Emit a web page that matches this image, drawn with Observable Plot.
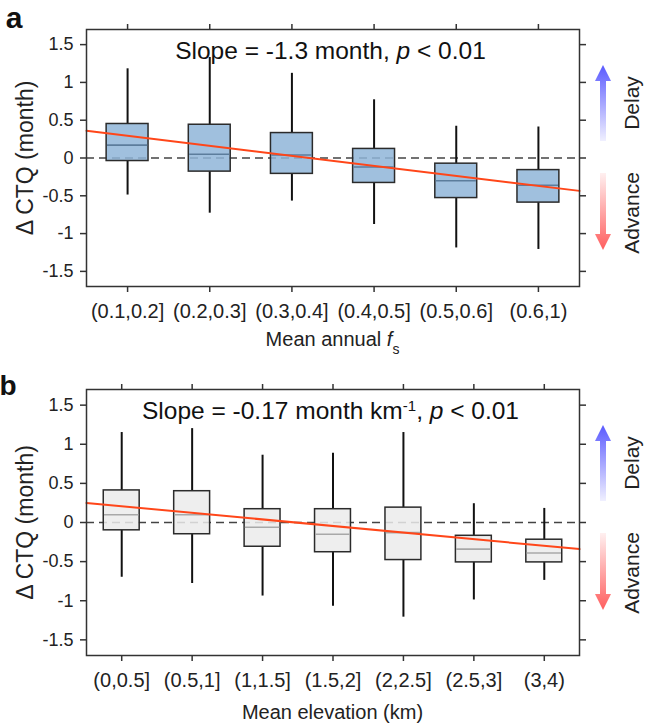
<!DOCTYPE html>
<html>
<head>
<meta charset="utf-8">
<script src="https://cdn.jsdelivr.net/npm/d3@7"></script>
<script src="https://cdn.jsdelivr.net/npm/@observablehq/plot@0.6"></script>
<style>
  html, body { margin: 0; padding: 0; background: #fff; }
  #wrap { width: 648px; height: 723px; position: relative; font-family: "Liberation Sans", Arial, sans-serif; }
  #wrap svg { display: block; }
</style>
</head>
<body>
<div id="wrap"></div>
<script>
// ---------- Data ----------
const yTicks = [-1.5, -1, -0.5, 0, 0.5, 1, 1.5];
const yTickLabels = ["-1.5", "-1", "-0.5", "0", "0.5", "1", "1.5"];

// Panel a: mean annual fs bins
const catsA = ["(0.1,0.2]", "(0.2,0.3]", "(0.3,0.4]", "(0.4,0.5]", "(0.5,0.6]", "(0.6,1)"];
const whiskerLowA = [-0.49, -0.73, -0.57, -0.88, -1.19, -1.21];
const q1A = [-0.04, -0.18, -0.21, -0.33, -0.53, -0.59];
const medianA = [0.17, 0.05, 0.04, -0.12, -0.30, -0.36];
const q3A = [0.45, 0.44, 0.33, 0.12, -0.075, -0.16];
const whiskerHighA = [1.18, 1.33, 1.12, 0.77, 0.42, 0.41];
const trendA = [0.36, -0.435]; // fitted value at left / right edge of frame

// Panel b: mean elevation bins
const catsB = ["(0,0.5]", "(0.5,1]", "(1,1.5]", "(1.5,2]", "(2,2.5]", "(2.5,3]", "(3,4)"];
const whiskerLowB = [-0.70, -0.78, -0.94, -1.07, -1.21, -0.99, -0.74];
const q1B = [-0.10, -0.15, -0.31, -0.38, -0.48, -0.51, -0.51];
const medianB = [0.10, 0.10, -0.06, -0.15, -0.13, -0.34, -0.39];
const q3B = [0.41, 0.40, 0.17, 0.17, 0.19, -0.17, -0.22];
const whiskerHighB = [1.15, 1.20, 0.86, 0.885, 1.15, 0.24, 0.18];
const trendB = [0.25, -0.34];

const FONT = "'Liberation Sans', Arial, Helvetica, sans-serif";

function panel(opts) {
  const {cats, wlo, q1, med, q3, whi, trend, height, marginBottom, fill, medColor,
         letter, letterPos, letterSize, slopeParts, xlabelParts, xlabelY, id} = opts;
  const n = cats.length;
  const rows = cats.map((c, i) => ({i, c, wlo: wlo[i], q1: q1[i], med: med[i], q3: q3[i], whi: whi[i]}));
  const trendRows = [{x: -0.5, y: trend[0]}, {x: n - 0.5, y: trend[1]}];
  const hw = 0.255;
  const mT = 29, mL = 86, mR = 69, W = 648;
  const plot = Plot.plot({
    width: W, height, marginTop: mT, marginBottom, marginLeft: mL, marginRight: mR,
    style: {fontFamily: FONT, fontSize: "18px", color: "#222", background: "white", overflow: "visible"},
    x: {domain: [-0.5, n - 0.5], axis: null},
    y: {domain: [-1.7, 1.7], axis: null},
    marks: [
      Plot.ruleY([0], {stroke: "#444", strokeWidth: 1.5, strokeDasharray: "8,5"}),
      Plot.ruleX(rows, {x: "i", y1: "q3", y2: "whi", stroke: "#111", strokeWidth: 2}),
      Plot.ruleX(rows, {x: "i", y1: "wlo", y2: "q1", stroke: "#111", strokeWidth: 2}),
      Plot.rect(rows, {x1: d => d.i - hw, x2: d => d.i + hw, y1: "q1", y2: "q3",
        fill, fillOpacity: 0.85, stroke: "#2b2b2b", strokeWidth: 1.5}),
      Plot.ruleY(rows, {y: "med", x1: d => d.i - hw + 0.01, x2: d => d.i + hw - 0.01, stroke: medColor, strokeWidth: 1.6}),
      Plot.line(trendRows, {x: "x", y: "y", stroke: "#ff4619", strokeWidth: 2}),
      Plot.frame({stroke: "#333", strokeWidth: 1.5}),
      Plot.axisY({anchor: "left", ticks: yTicks, tickFormat: d => yTickLabels[yTicks.indexOf(d)],
        tickSize: 6, tickPadding: 7, fontSize: 18, label: null, stroke: "#333", strokeWidth: 1.5}),
      Plot.axisY({anchor: "right", ticks: yTicks, tickFormat: () => "", tickSize: 6, label: null, stroke: "#333", strokeWidth: 1.5}),
      Plot.axisX({anchor: "bottom", ticks: d3.range(n), tickFormat: i => cats[i],
        tickSize: 6, tickPadding: 11, fontSize: 20, label: null, stroke: "#333", strokeWidth: 1.5}),
      Plot.axisX({anchor: "top", ticks: d3.range(n), tickFormat: () => "", tickSize: 6, label: null, stroke: "#333", strokeWidth: 1.5}),
      Plot.text(["Δ CTQ (month)"], {frameAnchor: "left", dx: -61, rotate: -90, fontSize: 23, fill: "#222",
        textAnchor: "middle", lineAnchor: "middle"})
    ]
  });

  const svg = d3.select(plot);
  const cx = (mL + (W - mR)) / 2;
  const x0 = W - mR;

  // panel letter
  svg.append("text").attr("x", letterPos[0]).attr("y", letterPos[1])
    .attr("font-family", FONT).attr("font-weight", "bold").attr("font-size", letterSize).attr("fill", "#111")
    .text(letter);

  // slope annotation
  const st = svg.append("text").attr("x", cx - 2).attr("y", mT + 30)
    .attr("text-anchor", "middle").attr("font-family", FONT).attr("font-size", 24.5).attr("fill", "#111");
  slopeParts.forEach(p => {
    const t = st.append("tspan").text(p.t);
    if (p.italic) t.attr("font-style", "italic");
    if (p.sup) t.attr("baseline-shift", "super").attr("font-size", 15);
  });

  // x label
  const xl = svg.append("text").attr("x", cx).attr("y", xlabelY)
    .attr("text-anchor", "middle").attr("font-family", FONT).attr("font-size", 20).attr("fill", "#222");
  xlabelParts.forEach(p => {
    const t = xl.append("tspan").text(p.t);
    if (p.italic) t.attr("font-style", "italic");
    if (p.sub) t.attr("baseline-shift", "sub").attr("font-size", 14);
  });

  // Delay / Advance arrows
  const defs = svg.append("defs");
  const ax = x0 + 24;
  const arrows = [
    {key: "up", tip: mT + 36, tail: mT + 112, c0: "#5a5aff", c1: "#f0f0ff"},
    {key: "dn", tip: mT + 221, tail: mT + 144, c0: "#ff5e5e", c1: "#fff0f0"}
  ];
  arrows.forEach(a => {
    const gid = `g-${id}-${a.key}`;
    const g = defs.append("linearGradient").attr("id", gid).attr("gradientUnits", "userSpaceOnUse")
      .attr("x1", 0).attr("x2", 0).attr("y1", a.tip).attr("y2", a.tail);
    g.append("stop").attr("offset", "0%").attr("stop-color", a.c0);
    g.append("stop").attr("offset", "100%").attr("stop-color", a.c1);
    const s = a.tail > a.tip ? 1 : -1;
    const hl = 16, hw2 = 8, sw = 3;
    const p = d3.path();
    p.moveTo(ax, a.tip);
    p.lineTo(ax + hw2, a.tip + s * hl);
    p.lineTo(ax + sw, a.tip + s * hl);
    p.lineTo(ax + sw, a.tail);
    p.lineTo(ax - sw, a.tail);
    p.lineTo(ax - sw, a.tip + s * hl);
    p.lineTo(ax - hw2, a.tip + s * hl);
    p.closePath();
    svg.append("path").attr("d", p.toString()).attr("fill", `url(#${gid})`);
  });
  [["Delay", mT + 74], ["Advance", mT + 184]].forEach(([t, y]) => {
    svg.append("text").attr("transform", `translate(${ax + 30},${y}) rotate(-90)`)
      .attr("text-anchor", "middle").attr("dominant-baseline", "middle")
      .attr("font-family", FONT).attr("font-size", 21).attr("fill", "#222").text(t);
  });
  return plot;
}

const wrap = document.getElementById("wrap");
wrap.appendChild(panel({
  id: "a", cats: catsA, wlo: whiskerLowA, q1: q1A, med: medianA, q3: q3A, whi: whiskerHighA, trend: trendA,
  height: 360, marginBottom: 74, fill: "#8fb5d8", medColor: "#5c7d9c",
  letter: "a", letterPos: [14, 28], letterSize: 30,
  slopeParts: [{t: "Slope = -1.3 month, "}, {t: "p", italic: true}, {t: " < 0.01"}],
  xlabelParts: [{t: "Mean annual "}, {t: "f", italic: true}, {t: "s", sub: true}],
  xlabelY: 346
}));
wrap.appendChild(panel({
  id: "b", cats: catsB, wlo: whiskerLowB, q1: q1B, med: medianB, q3: q3B, whi: whiskerHighB, trend: trendB,
  height: 363, marginBottom: 68, fill: "#ebebeb", medColor: "#a8a8a8",
  letter: "b", letterPos: [8, 35], letterSize: 28,
  slopeParts: [{t: "Slope = -0.17 month km"}, {t: "-1", sup: true}, {t: ", "}, {t: "p", italic: true}, {t: " < 0.01"}],
  xlabelParts: [{t: "Mean elevation (km)"}],
  xlabelY: 359
}));
</script>
</body>
</html>
